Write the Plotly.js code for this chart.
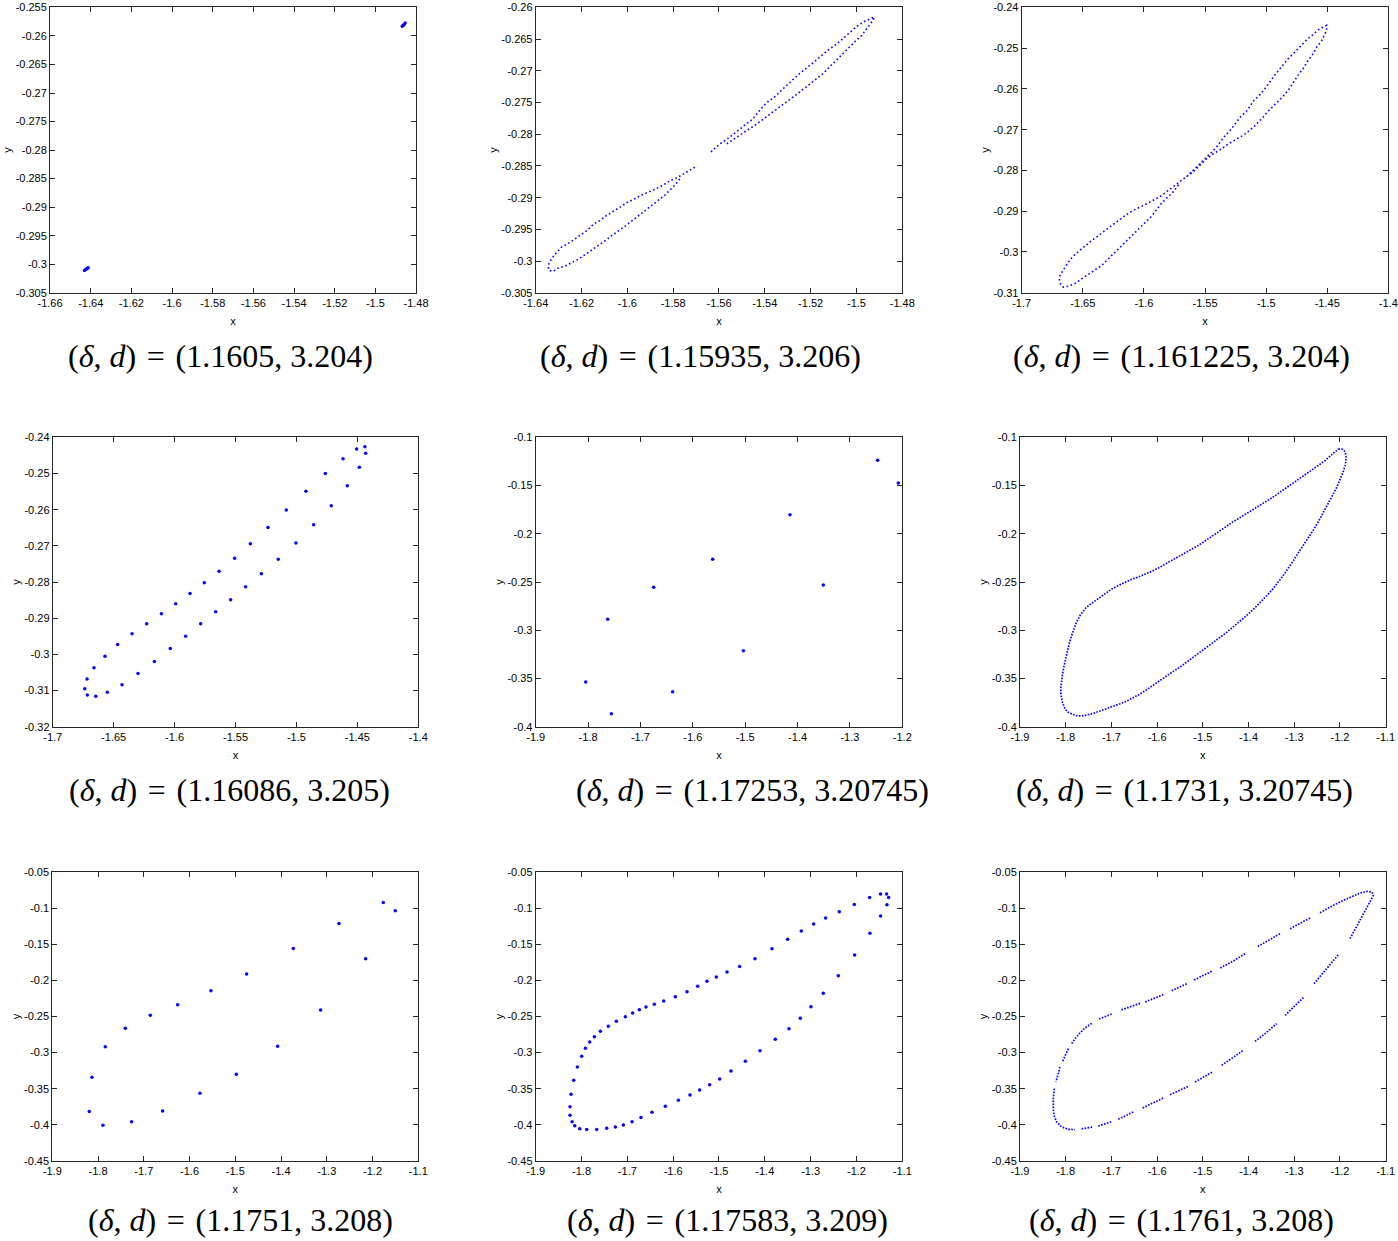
<!DOCTYPE html>
<html>
<head>
<meta charset="utf-8">
<script src="https://cdn.plot.ly/plotly-3.0.1.min.js"></script>
<style>
  body { margin: 0; background: #fff; }
  #grid { width: 1398px; height: 1241px; }
</style>
</head>
<body>
<div id="grid"></div>
<script>
// parameter pairs shown under each panel
var deltas = ['1.1605', '1.15935', '1.161225', '1.16086', '1.17253', '1.1731', '1.1751', '1.17583', '1.1761'];
var dees = ['3.204', '3.206', '3.204', '3.205', '3.20745', '3.20745', '3.208', '3.209', '3.208'];

// tick labels, panel by panel
var xTicks = [
  ['-1.66', '-1.64', '-1.62', '-1.6', '-1.58', '-1.56', '-1.54', '-1.52', '-1.5', '-1.48'],
  ['-1.64', '-1.62', '-1.6', '-1.58', '-1.56', '-1.54', '-1.52', '-1.5', '-1.48'],
  ['-1.7', '-1.65', '-1.6', '-1.55', '-1.5', '-1.45', '-1.4'],
  ['-1.7', '-1.65', '-1.6', '-1.55', '-1.5', '-1.45', '-1.4'],
  ['-1.9', '-1.8', '-1.7', '-1.6', '-1.5', '-1.4', '-1.3', '-1.2'],
  ['-1.9', '-1.8', '-1.7', '-1.6', '-1.5', '-1.4', '-1.3', '-1.2', '-1.1'],
  ['-1.9', '-1.8', '-1.7', '-1.6', '-1.5', '-1.4', '-1.3', '-1.2', '-1.1'],
  ['-1.9', '-1.8', '-1.7', '-1.6', '-1.5', '-1.4', '-1.3', '-1.2', '-1.1'],
  ['-1.9', '-1.8', '-1.7', '-1.6', '-1.5', '-1.4', '-1.3', '-1.2', '-1.1']
];
var yTicks = [
  ['-0.305', '-0.3', '-0.295', '-0.29', '-0.285', '-0.28', '-0.275', '-0.27', '-0.265', '-0.26', '-0.255'],
  ['-0.305', '-0.3', '-0.295', '-0.29', '-0.285', '-0.28', '-0.275', '-0.27', '-0.265', '-0.26'],
  ['-0.31', '-0.3', '-0.29', '-0.28', '-0.27', '-0.26', '-0.25', '-0.24'],
  ['-0.32', '-0.31', '-0.3', '-0.29', '-0.28', '-0.27', '-0.26', '-0.25', '-0.24'],
  ['-0.4', '-0.35', '-0.3', '-0.25', '-0.2', '-0.15', '-0.1'],
  ['-0.4', '-0.35', '-0.3', '-0.25', '-0.2', '-0.15', '-0.1'],
  ['-0.45', '-0.4', '-0.35', '-0.3', '-0.25', '-0.2', '-0.15', '-0.1', '-0.05'],
  ['-0.45', '-0.4', '-0.35', '-0.3', '-0.25', '-0.2', '-0.15', '-0.1', '-0.05'],
  ['-0.45', '-0.4', '-0.35', '-0.3', '-0.25', '-0.2', '-0.15', '-0.1', '-0.05']
];

// (x, y) points; [null, null] = gap in the curve
var p1Points = [
  [-1.4868, -0.2583], [-1.4866, -0.2582], [-1.4862, -0.2581], [-1.4860, -0.2580], [-1.4856, -0.2579], [-1.4853, -0.2577],
  [-1.6431, -0.3011], [-1.6428, -0.3010], [-1.6424, -0.3009], [-1.6420, -0.3008], [-1.6416, -0.3007], [-1.6412, -0.3006]
];

var p2Points = [
  [-1.5635, -0.2828], [-1.5599, -0.2816], [-1.5562, -0.2807], [-1.5526, -0.2797], [-1.5489, -0.2787], [-1.5453, -0.2776],
  [-1.5424, -0.2763], [-1.5392, -0.2750], [-1.5363, -0.2743], [-1.5327, -0.2730], [-1.5290, -0.2718], [-1.5254, -0.2706],
  [-1.5217, -0.2696], [-1.5188, -0.2687], [-1.5159, -0.2678], [-1.5123, -0.2667], [-1.5087, -0.2658], [-1.5057, -0.2648],
  [-1.5028, -0.2639], [-1.4999, -0.2630], [-1.4970, -0.2623], [-1.4941, -0.2618], [-1.4922, -0.2615],
  [-1.4929, -0.2621], [-1.4941, -0.2627], [-1.4956, -0.2635], [-1.4977, -0.2644], [-1.5007, -0.2654], [-1.5036, -0.2665],
  [-1.5065, -0.2675], [-1.5101, -0.2688], [-1.5145, -0.2704], [-1.5188, -0.2717], [-1.5225, -0.2727], [-1.5268, -0.2739],
  [-1.5305, -0.2749], [-1.5334, -0.2757], [-1.5370, -0.2766], [-1.5407, -0.2776], [-1.5443, -0.2786], [-1.5479, -0.2794],
  [-1.5508, -0.2801], [-1.5530, -0.2807], [-1.5552, -0.2813], [-1.5574, -0.2817],
  [null, null],
  [-1.5705, -0.2852], [-1.5734, -0.2858], [-1.5763, -0.2864], [-1.5785, -0.2869], [-1.5807, -0.2872], [-1.5828, -0.2877],
  [-1.5857, -0.2883], [-1.5887, -0.2888], [-1.5916, -0.2892], [-1.5945, -0.2897], [-1.5974, -0.2903], [-1.6003, -0.2908],
  [-1.6032, -0.2915], [-1.6061, -0.2921], [-1.6090, -0.2928], [-1.6119, -0.2936], [-1.6148, -0.2942], [-1.6177, -0.2952],
  [-1.6207, -0.2960], [-1.6236, -0.2967], [-1.6262, -0.2973], [-1.6287, -0.2978], [-1.6305, -0.2985], [-1.6320, -0.2991],
  [-1.6333, -0.2998], [-1.6342, -0.3004], [-1.6345, -0.3010], [-1.6342, -0.3015],
  [-1.6323, -0.3016], [-1.6301, -0.3011], [-1.6272, -0.3008], [-1.6243, -0.3003], [-1.6214, -0.2997], [-1.6185, -0.2990],
  [-1.6156, -0.2983], [-1.6127, -0.2976], [-1.6097, -0.2968], [-1.6068, -0.2960], [-1.6039, -0.2953], [-1.6010, -0.2945],
  [-1.5981, -0.2937], [-1.5952, -0.2929], [-1.5923, -0.2920], [-1.5894, -0.2912], [-1.5865, -0.2904], [-1.5836, -0.2896],
  [-1.5814, -0.2888], [-1.5792, -0.2880], [-1.5770, -0.2870]
];

var p3Points = [
  [-1.5650, -0.2815], [-1.5595, -0.2799], [-1.5541, -0.2783], [-1.5500, -0.2771], [-1.5459, -0.2759], [-1.5418, -0.2747],
  [-1.5377, -0.2731], [-1.5336, -0.2715], [-1.5295, -0.2702], [-1.5255, -0.2686], [-1.5214, -0.2670], [-1.5159, -0.2654],
  [-1.5105, -0.2630], [-1.5050, -0.2614], [-1.4996, -0.2594], [-1.4927, -0.2565], [-1.4873, -0.2545], [-1.4818, -0.2525],
  [-1.4777, -0.2513], [-1.4723, -0.2495], [-1.4668, -0.2479], [-1.4627, -0.2469], [-1.4573, -0.2455], [-1.4532, -0.2448],
  [-1.4505, -0.2444], [-1.4505, -0.2456], [-1.4518, -0.2465], [-1.4545, -0.2481], [-1.4586, -0.2497], [-1.4614, -0.2513],
  [-1.4655, -0.2529], [-1.4695, -0.2549], [-1.4736, -0.2565], [-1.4777, -0.2585], [-1.4818, -0.2603], [-1.4873, -0.2622],
  [-1.4927, -0.2638], [-1.4982, -0.2654], [-1.5036, -0.2673], [-1.5105, -0.2694], [-1.5173, -0.2711], [-1.5241, -0.2723],
  [-1.5309, -0.2735], [-1.5364, -0.2747], [-1.5432, -0.2759], [-1.5486, -0.2771], [-1.5541, -0.2787], [-1.5595, -0.2803],
  [-1.5650, -0.2815],
  [-1.5705, -0.2827], [-1.5759, -0.2840], [-1.5814, -0.2852], [-1.5868, -0.2864], [-1.5923, -0.2873], [-1.5977, -0.2882],
  [-1.6032, -0.2890], [-1.6086, -0.2898], [-1.6141, -0.2908], [-1.6195, -0.2920], [-1.6250, -0.2932], [-1.6305, -0.2944],
  [-1.6359, -0.2955], [-1.6414, -0.2969], [-1.6468, -0.2982], [-1.6523, -0.2995], [-1.6564, -0.3006], [-1.6605, -0.3019],
  [-1.6637, -0.3033], [-1.6665, -0.3047], [-1.6686, -0.3057], [-1.6692, -0.3069], [-1.6681, -0.3079], [-1.6659, -0.3086],
  [-1.6618, -0.3084], [-1.6564, -0.3077], [-1.6509, -0.3065], [-1.6455, -0.3055], [-1.6400, -0.3044], [-1.6345, -0.3033],
  [-1.6305, -0.3021], [-1.6250, -0.3005], [-1.6195, -0.2987], [-1.6141, -0.2971], [-1.6086, -0.2955], [-1.6032, -0.2940],
  [-1.5977, -0.2924], [-1.5936, -0.2912], [-1.5895, -0.2896], [-1.5855, -0.2880], [-1.5814, -0.2868], [-1.5759, -0.2852],
  [-1.5705, -0.2831]
];

var p4Points = [
  [-1.4438, -0.2426], [-1.4506, -0.2432], [-1.4618, -0.2459], [-1.4763, -0.2500], [-1.4922, -0.2549], [-1.5083, -0.2601],
  [-1.5233, -0.2649], [-1.5378, -0.2694], [-1.5507, -0.2734], [-1.5635, -0.2770], [-1.5756, -0.2802], [-1.5873, -0.2832],
  [-1.5991, -0.2860], [-1.6108, -0.2888], [-1.6229, -0.2915], [-1.6349, -0.2943], [-1.6467, -0.2973], [-1.6571, -0.3005],
  [-1.6661, -0.3037], [-1.6718, -0.3068], [-1.6737, -0.3095], [-1.6716, -0.3112], [-1.6647, -0.3116], [-1.6552, -0.3105],
  [-1.6431, -0.3084], [-1.6300, -0.3053], [-1.6166, -0.3020], [-1.6035, -0.2984], [-1.5909, -0.2950], [-1.5786, -0.2915],
  [-1.5663, -0.2882], [-1.5540, -0.2849], [-1.5417, -0.2813], [-1.5288, -0.2777], [-1.5149, -0.2737], [-1.5004, -0.2692],
  [-1.4859, -0.2642], [-1.4714, -0.2589], [-1.4583, -0.2534], [-1.4484, -0.2483], [-1.4432, -0.2444]
];

var p5Points = [
  [-1.2471, -0.1238], [-1.2076, -0.1474], [-1.4144, -0.1802], [-1.5621, -0.2265], [-1.3508, -0.2531], [-1.6747, -0.2555],
  [-1.7625, -0.2887], [-1.5035, -0.3212], [-1.8045, -0.3537], [-1.6385, -0.3637], [-1.7555, -0.3865]
];

var p6Points = [
  [-1.2036, -0.1121], [-1.1941, -0.1124], [-1.1890, -0.1149], [-1.1868, -0.1194], [-1.1868, -0.1242], [-1.1890, -0.1297],
  [-1.1941, -0.1373], [-1.1999, -0.1442], [-1.2072, -0.1518], [-1.2160, -0.1598], [-1.2254, -0.1684], [-1.2364, -0.1788],
  [-1.2473, -0.1874], [-1.2582, -0.1961], [-1.2692, -0.2037], [-1.2801, -0.2116], [-1.2911, -0.2196], [-1.3020, -0.2279],
  [-1.3129, -0.2358], [-1.3239, -0.2431], [-1.3348, -0.2497], [-1.3458, -0.2566], [-1.3603, -0.2642], [-1.3749, -0.2714],
  [-1.3895, -0.2783], [-1.4041, -0.2846], [-1.4187, -0.2908], [-1.4333, -0.2963], [-1.4479, -0.3022], [-1.4624, -0.3074],
  [-1.4770, -0.3126], [-1.4916, -0.3177], [-1.5062, -0.3229], [-1.5208, -0.3281], [-1.5354, -0.3333], [-1.5500, -0.3381],
  [-1.5645, -0.3426], [-1.5791, -0.3475], [-1.5937, -0.3523], [-1.6083, -0.3571], [-1.6229, -0.3616], [-1.6375, -0.3661],
  [-1.6521, -0.3699], [-1.6666, -0.3734], [-1.6812, -0.3762], [-1.6958, -0.3789], [-1.7104, -0.3813], [-1.7250, -0.3838],
  [-1.7396, -0.3862], [-1.7541, -0.3879], [-1.7651, -0.3889], [-1.7760, -0.3886], [-1.7870, -0.3869], [-1.7964, -0.3845],
  [-1.8030, -0.3800], [-1.8074, -0.3741], [-1.8103, -0.3672], [-1.8110, -0.3603], [-1.8096, -0.3533], [-1.8067, -0.3447],
  [-1.8023, -0.3343], [-1.7979, -0.3240], [-1.7921, -0.3136], [-1.7855, -0.3032], [-1.7775, -0.2929], [-1.7673, -0.2835],
  [-1.7556, -0.2766], [-1.7432, -0.2721], [-1.7286, -0.2669], [-1.7140, -0.2618], [-1.6995, -0.2573], [-1.6849, -0.2535],
  [-1.6703, -0.2500], [-1.6557, -0.2472], [-1.6411, -0.2448], [-1.6265, -0.2421], [-1.6119, -0.2389], [-1.5974, -0.2355],
  [-1.5828, -0.2317], [-1.5682, -0.2279], [-1.5536, -0.2241], [-1.5390, -0.2203], [-1.5244, -0.2161], [-1.5098, -0.2120],
  [-1.4953, -0.2075], [-1.4807, -0.2030], [-1.4661, -0.1982], [-1.4515, -0.1933], [-1.4369, -0.1885], [-1.4223, -0.1843],
  [-1.4078, -0.1802], [-1.3932, -0.1760], [-1.3786, -0.1719], [-1.3640, -0.1674], [-1.3494, -0.1629], [-1.3348, -0.1581],
  [-1.3202, -0.1532], [-1.3057, -0.1484], [-1.2911, -0.1436], [-1.2765, -0.1387], [-1.2619, -0.1339], [-1.2473, -0.1290],
  [-1.2327, -0.1242], [-1.2181, -0.1180], [-1.2087, -0.1138], [-1.2036, -0.1121]
];

var p7Points = [
  [-1.1765, -0.0920], [-1.1503, -0.1035], [-1.2734, -0.1211], [-1.2151, -0.1700], [-1.3732, -0.1557], [-1.4752, -0.1912],
  [-1.3135, -0.2410], [-1.5532, -0.2142], [-1.6260, -0.2336], [-1.4075, -0.2913], [-1.6858, -0.2484], [-1.7404, -0.2664],
  [-1.4978, -0.3300], [-1.7842, -0.2918], [-1.5772, -0.3563], [-1.8133, -0.3342], [-1.6588, -0.3808], [-1.8191, -0.3817],
  [-1.7266, -0.3956], [-1.7893, -0.4006]
];

var p8Points = [
  [-1.1473, -0.0805], [-1.1342, -0.0805], [-1.1298, -0.0851], [-1.1335, -0.0952], [-1.1473, -0.1109], [-1.1705, -0.1349],
  [-1.2040, -0.1649], [-1.2396, -0.1935], [-1.2724, -0.2179], [-1.2993, -0.2364], [-1.3225, -0.2525], [-1.3473, -0.2668],
  [-1.3771, -0.2816], [-1.4105, -0.2973], [-1.4425, -0.3121], [-1.4738, -0.3254], [-1.4985, -0.3365], [-1.5204, -0.3444],
  [-1.5422, -0.3517], [-1.5633, -0.3587], [-1.5887, -0.3660], [-1.6171, -0.3743], [-1.6462, -0.3826], [-1.6702, -0.3900],
  [-1.6898, -0.3956], [-1.7087, -0.4002], [-1.7262, -0.4029], [-1.7451, -0.4048], [-1.7669, -0.4066], [-1.7887, -0.4066],
  [-1.8040, -0.4053], [-1.8149, -0.4011], [-1.8207, -0.3956], [-1.8251, -0.3868], [-1.8251, -0.3748], [-1.8229, -0.3577],
  [-1.8171, -0.3384], [-1.8091, -0.3199], [-1.7996, -0.3051], [-1.7916, -0.2941], [-1.7822, -0.2853], [-1.7720, -0.2779],
  [-1.7589, -0.2705], [-1.7415, -0.2636], [-1.7240, -0.2567], [-1.7044, -0.2502], [-1.6884, -0.2452], [-1.6738, -0.2405],
  [-1.6593, -0.2369], [-1.6411, -0.2332], [-1.6207, -0.2286], [-1.5953, -0.2226], [-1.5698, -0.2156], [-1.5465, -0.2082],
  [-1.5262, -0.2013], [-1.5058, -0.1953], [-1.4825, -0.1884], [-1.4549, -0.1806], [-1.4215, -0.1700], [-1.3844, -0.1561],
  [-1.3502, -0.1432], [-1.3204, -0.1317], [-1.2935, -0.1220], [-1.2673, -0.1137], [-1.2375, -0.1049], [-1.2047, -0.0948],
  [-1.1713, -0.0851]
];

var p9Points = [
  [-1.1780, -0.1423], [-1.1598, -0.1215], [-1.1452, -0.1044], [-1.1328, -0.0892], [-1.1270, -0.0823], [-1.1299, -0.0777],
  [-1.1401, -0.0768], [-1.1562, -0.0791], [-1.1707, -0.0828], [-1.1817, -0.0860], [-1.1926, -0.0892], [-1.2145, -0.0961],
  [-1.2291, -0.1008], [-1.2437, -0.1063], [null, null],
  [-1.2655, -0.1137], [-1.2874, -0.1206], [-1.3093, -0.1284], [null, null],
  [-1.3312, -0.1354], [-1.3567, -0.1446], [-1.3822, -0.1538], [null, null],
  [-1.4078, -0.1630], [-1.4333, -0.1732], [-1.4624, -0.1829], [null, null],
  [-1.4807, -0.1875], [-1.5026, -0.1944], [-1.5208, -0.1999], [null, null],
  [-1.5354, -0.2046], [-1.5536, -0.2101], [-1.5682, -0.2142], [null, null],
  [-1.5864, -0.2198], [-1.6083, -0.2253], [-1.6265, -0.2299], [null, null],
  [-1.6375, -0.2318], [-1.6593, -0.2364], [-1.6812, -0.2415], [null, null],
  [-1.6995, -0.2465], [-1.7140, -0.2502], [-1.7286, -0.2539], [null, null],
  [-1.7432, -0.2595], [-1.7578, -0.2659], [-1.7702, -0.2738], [-1.7797, -0.2807], [-1.7870, -0.2876], [null, null],
  [-1.7943, -0.2945], [-1.8016, -0.3037], [-1.8067, -0.3121], [null, null],
  [-1.8125, -0.3199], [-1.8176, -0.3314], [-1.8212, -0.3407], [null, null],
  [-1.8249, -0.3499], [-1.8271, -0.3637], [-1.8271, -0.3776], [-1.8256, -0.3868], [-1.8198, -0.3960], [-1.8088, -0.4029],
  [-1.7943, -0.4062], [-1.7797, -0.4066], [null, null],
  [-1.7651, -0.4057], [-1.7505, -0.4039], [-1.7396, -0.4029], [null, null],
  [-1.7286, -0.4016], [-1.7140, -0.3988], [-1.6995, -0.3956], [null, null],
  [-1.6849, -0.3923], [-1.6703, -0.3877], [-1.6521, -0.3822], [null, null],
  [-1.6316, -0.3766], [-1.6083, -0.3697], [-1.5864, -0.3628], [null, null],
  [-1.5718, -0.3582], [-1.5500, -0.3522], [-1.5295, -0.3462], [null, null],
  [-1.5171, -0.3407], [-1.4989, -0.3337], [-1.4792, -0.3268], [null, null],
  [-1.4588, -0.3176], [-1.4369, -0.3084], [-1.4114, -0.2968], [null, null],
  [-1.3859, -0.2844], [-1.3640, -0.2738], [-1.3385, -0.2599], [null, null],
  [-1.3202, -0.2484], [-1.3020, -0.2369], [-1.2787, -0.2230], [null, null],
  [-1.2568, -0.2046], [-1.2327, -0.1861], [-1.2036, -0.1644]
];

var panelPoints = [p1Points, p2Points, p3Points, p4Points, p5Points, p6Points, p7Points, p8Points, p9Points];

// how each panel is drawn: sparse dots or a dense dotted orbit
var panelStyle = [
  {mode: 'markers', size: 3.2},
  {mode: 'lines', dash: '1.6px,2.6px', width: 1.6},
  {mode: 'lines', dash: '1.6px,2.6px', width: 1.6},
  {mode: 'markers', size: 3.5},
  {mode: 'markers', size: 3.5},
  {mode: 'lines', dash: '1.6px,1.4px', width: 1.7},
  {mode: 'markers', size: 3.5},
  {mode: 'markers', size: 3.5},
  {mode: 'lines', dash: '1.6px,1.4px', width: 1.7}
];

// plot boxes, as fractions of the page (top row starts a few px lower so its top tick labels stay on the page)
var xDomains = [
  [0.0358, 0.2976], [0.3832, 0.6454], [0.7308, 0.9931],
  [0.0377, 0.2992], [0.3832, 0.6454], [0.7296, 0.9912],
  [0.0374, 0.2992], [0.3832, 0.6454], [0.7296, 0.9912]
];
var yDomains = [[0.7641, 0.9940], [0.4144, 0.6476], [0.0645, 0.2973]];
var captionX = [220, 700, 1181, 229, 752, 1184, 240, 727, 1181];
var captionY = [356, 790, 1220];

var W = 1398, H = 1241;
var axisColor = '#262626';
var tickFont = {family: 'Liberation Sans, Arial, sans-serif', size: 11, color: '#000'};

var data = [];
var layout = {
  width: W, height: H,
  margin: {l: 0, r: 0, t: 0, b: 0},
  paper_bgcolor: '#fff', plot_bgcolor: '#fff',
  showlegend: false,
  annotations: []
};

for (var i = 0; i < 9; i++) {
  var n = i + 1;
  var suffix = n === 1 ? '' : String(n);
  var pts = panelPoints[i];
  var st = panelStyle[i];
  var trace = {
    x: pts.map(function (p) { return p[0]; }),
    y: pts.map(function (p) { return p[1]; }),
    xaxis: 'x' + suffix, yaxis: 'y' + suffix,
    type: 'scatter', mode: st.mode,
    hoverinfo: 'skip', connectgaps: false
  };
  if (st.mode === 'markers') {
    trace.marker = {color: '#0000ff', size: st.size};
  } else {
    trace.line = {color: '#0000ff', width: st.width, dash: st.dash};
  }
  data.push(trace);

  var xt = xTicks[i], yt = yTicks[i];
  layout['xaxis' + suffix] = {
    domain: xDomains[i], anchor: 'y' + suffix,
    range: [Number(xt[0]), Number(xt[xt.length - 1])],
    tickvals: xt.map(Number), ticktext: xt, ticklabeloverflow: 'allow',
    ticks: 'inside', ticklen: 5, tickcolor: axisColor, tickwidth: 1,
    showline: true, linecolor: axisColor, linewidth: 1, mirror: 'ticks',
    showgrid: false, zeroline: false, tickfont: tickFont,
    title: {text: 'x', font: tickFont, standoff: 9}
  };
  layout['yaxis' + suffix] = {
    domain: yDomains[Math.floor(i / 3)], anchor: 'x' + suffix,
    range: [Number(yt[0]), Number(yt[yt.length - 1])],
    tickvals: yt.map(Number), ticktext: yt, ticklabeloverflow: 'allow',
    ticks: 'inside', ticklen: 5, tickcolor: axisColor, tickwidth: 1,
    showline: true, linecolor: axisColor, linewidth: 1, mirror: 'ticks',
    showgrid: false, zeroline: false, tickfont: tickFont,
    title: {text: 'y', font: tickFont, standoff: 1}
  };

  layout.annotations.push({
    xref: 'paper', yref: 'paper',
    x: captionX[i] / W, y: 1 - captionY[Math.floor(i / 3)] / H,
    xanchor: 'center', yanchor: 'middle', showarrow: false, borderpad: 0,
    text: '(<i>δ</i>, <i>d</i>)\u2004=\u2004(' + deltas[i] + ', ' + dees[i] + ')',
    font: {family: 'Liberation Serif, Times New Roman, serif', size: 32, color: '#000'}
  });
}

Plotly.newPlot('grid', data, layout, {displayModeBar: false, staticPlot: true});
</script>
</body>
</html>
